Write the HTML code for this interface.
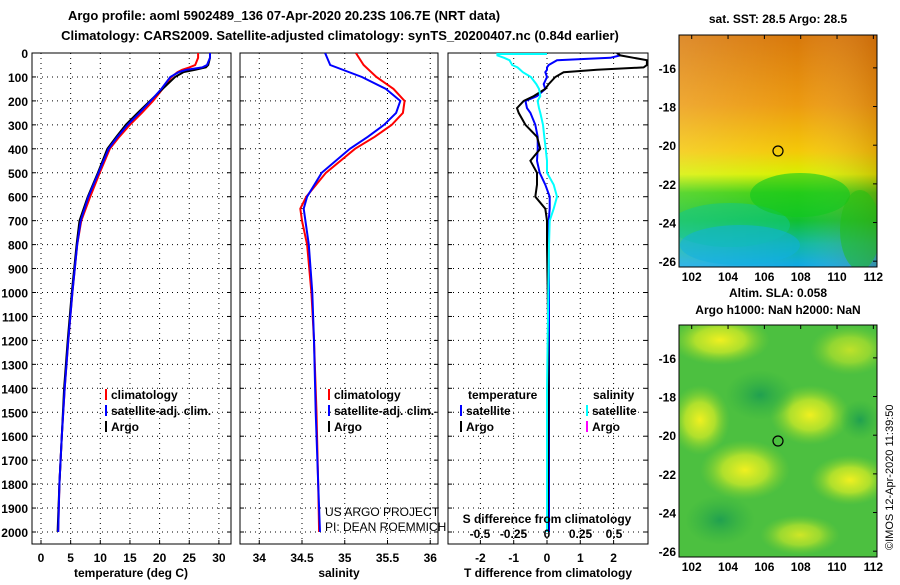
<!DOCTYPE html>
<html><head><meta charset="utf-8"><style>
body{margin:0;background:#fff;}
svg text{font-family:"Liberation Sans",sans-serif;font-weight:bold;font-size:12px;fill:#000;}
</style></head><body>
<svg id="fig" width="900" height="580" viewBox="0 0 900 580" xmlns="http://www.w3.org/2000/svg">
<defs>
<linearGradient id="sstV" x1="0" y1="0" x2="0" y2="1">
<stop offset="0" stop-color="#d8780a"/><stop offset="0.3" stop-color="#ec9a10"/>
<stop offset="0.5" stop-color="#f4c808"/><stop offset="0.6" stop-color="#d8f000"/>
<stop offset="0.68" stop-color="#40d010"/><stop offset="0.8" stop-color="#10c030"/>
<stop offset="0.9" stop-color="#10b8a0"/><stop offset="1" stop-color="#10a8e8"/>
</linearGradient>
<linearGradient id="sstH" x1="0" y1="0" x2="1" y2="0">
<stop offset="0" stop-color="#fff" stop-opacity="0.15"/><stop offset="0.6" stop-color="#fff" stop-opacity="0"/>
<stop offset="1" stop-color="#a04000" stop-opacity="0.25"/>
</linearGradient>
<radialGradient id="blob" cx="0.5" cy="0.5" r="0.5">
<stop offset="0" stop-color="#f0f020"/><stop offset="0.5" stop-color="#c8e828" stop-opacity="0.8"/><stop offset="1" stop-color="#80d030" stop-opacity="0"/>
</radialGradient>
<radialGradient id="dblob" cx="0.5" cy="0.5" r="0.5">
<stop offset="0" stop-color="#20a050"/><stop offset="1" stop-color="#30b040" stop-opacity="0"/>
</radialGradient>
<clipPath id="c1"><rect x="32" y="53" width="199" height="491"/></clipPath>
<clipPath id="c2"><rect x="240" y="53" width="198" height="491"/></clipPath>
<clipPath id="c3"><rect x="448" y="53" width="200" height="491"/></clipPath>
<clipPath id="m1"><rect x="679" y="35" width="198" height="232"/></clipPath>
<clipPath id="m2"><rect x="679" y="325" width="198" height="232"/></clipPath>
</defs>
<text x="284" y="20" text-anchor="middle" style="font-size:13px">Argo profile: aoml 5902489_136 07-Apr-2020 20.23S 106.7E (NRT data)</text>
<text x="340" y="40" text-anchor="middle" style="font-size:13px">Climatology: CARS2009. Satellite-adjusted climatology: synTS_20200407.nc (0.84d earlier)</text>
<g id="panels"></g>

<!-- SST map -->
<g>
<text x="778" y="23" text-anchor="middle">sat. SST: 28.5 Argo: 28.5</text>
<g clip-path="url(#m1)">
<rect x="679" y="35" width="198" height="232" fill="url(#sstV)"/>
<rect x="679" y="35" width="198" height="232" fill="url(#sstH)"/>
<ellipse cx="730" cy="225" rx="60" ry="22" fill="#10c890" opacity="0.5"/>
<ellipse cx="740" cy="245" rx="60" ry="20" fill="#10b0e0" opacity="0.5"/>
<ellipse cx="800" cy="195" rx="50" ry="22" fill="#10c820" opacity="0.6"/>
<ellipse cx="860" cy="230" rx="20" ry="40" fill="#20c010" opacity="0.5"/>
</g>
<circle cx="778" cy="151" r="5" fill="none" stroke="#000" stroke-width="1.2"/>
<rect x="679" y="35" width="198" height="232" fill="none" stroke="#000"/>
<g id="map1ticks"></g>
</g>
<!-- SLA map -->
<g>
<text x="778" y="297" text-anchor="middle">Altim. SLA: 0.058</text>
<text x="778" y="314" text-anchor="middle">Argo h1000: NaN h2000: NaN</text>
<g clip-path="url(#m2)">
<rect x="679" y="325" width="198" height="232" fill="#4cc040"/>
<ellipse cx="720" cy="340" rx="50" ry="25" fill="url(#blob)"/>
<ellipse cx="850" cy="350" rx="40" ry="25" fill="url(#blob)" opacity="0.7"/>
<ellipse cx="700" cy="420" rx="30" ry="35" fill="url(#blob)"/>
<ellipse cx="810" cy="415" rx="40" ry="30" fill="url(#blob)"/>
<ellipse cx="745" cy="470" rx="45" ry="30" fill="url(#blob)"/>
<ellipse cx="850" cy="480" rx="40" ry="25" fill="url(#blob)"/>
<ellipse cx="800" cy="535" rx="40" ry="20" fill="url(#blob)" opacity="0.8"/>
<ellipse cx="760" cy="395" rx="35" ry="25" fill="url(#dblob)"/>
<ellipse cx="720" cy="520" rx="35" ry="25" fill="url(#dblob)"/>
<ellipse cx="860" cy="420" rx="20" ry="20" fill="url(#dblob)"/>
</g>
<circle cx="778" cy="441" r="5" fill="none" stroke="#000" stroke-width="1.2"/>
<rect x="679" y="325" width="198" height="232" fill="none" stroke="#000"/>
<g id="map2ticks"></g>
</g>
<text transform="translate(893,550) rotate(-90)" style="font-weight:normal;font-size:11px">©IMOS 12-Apr-2020 11:39:50</text>
</svg>
<script>
// ---------- data ----------
const depthTicks=[0,100,200,300,400,500,600,700,800,900,1000,1100,1200,1300,1400,1500,1600,1700,1800,1900,2000];
const tTicks=[0,5,10,15,20,25,30];
const sTicks=[34,34.5,35,35.5,36];
const dtTicks=[-2,-1,0,1,2];
const dsTicks=[-0.5,-0.25,0,0.25,0.5];
const dsTickLabels=["-0.5","-0.25","0","0.25","0.5"];
const latTicks=[-16,-18,-20,-22,-24,-26];
const lonTicks=[102,104,106,108,110,112];

const tDepth=[0,20,50,60,70,80,100,150,200,250,300,350,400,500,600,700,800,1000,1200,1400,1600,1800,2000];
const tArgo=[28.5,28.5,28.2,27.8,26,24,22.6,20.5,18.4,16.3,14.3,12.7,11.2,9.6,7.9,6.5,6.0,5.2,4.5,3.9,3.5,3.1,2.8];
const tSat=[28.5,28.5,28.0,27.2,24.5,23.2,21.8,20.3,18.5,16.6,14.6,12.9,11.4,9.7,8.0,6.7,6.1,5.3,4.6,4.0,3.5,3.1,2.9];
const tClim=[26.5,26.5,26.0,25.0,23.8,23.0,22.0,20.5,18.9,17.0,15.0,13.2,11.6,9.9,8.3,6.8,6.1,5.3,4.6,4.0,3.5,3.1,2.9];

const sDepth=[0,50,100,150,200,250,300,350,400,500,600,650,700,800,1000,1200,1500,1800,2000];
const sSat=[34.77,34.83,35.2,35.48,35.65,35.6,35.46,35.27,35.06,34.73,34.56,34.52,34.54,34.58,34.62,34.64,34.66,34.69,34.71];
const sClim=[35.13,35.22,35.37,35.57,35.7,35.68,35.55,35.35,35.12,34.78,34.55,34.48,34.5,34.56,34.61,34.64,34.67,34.69,34.7];

const dDepth=[0,10,20,30,50,60,70,80,100,130,150,180,200,230,250,300,350,400,450,500,550,600,650,700,800,1000,1400,2000];
const dtArgo=[2.1,2.2,2.6,3.0,3.0,2.9,1.5,0.5,0.25,0.05,-0.05,-0.4,-0.7,-0.9,-0.85,-0.65,-0.3,-0.2,-0.5,-0.3,-0.3,-0.35,-0.05,0,0,0.02,0.05,0.02];
const dtSat=[2.1,2.2,1.9,0.3,0.05,0.0,0.0,-0.05,0.0,-0.1,-0.05,-0.3,-0.65,-0.6,-0.5,-0.35,-0.28,-0.28,-0.3,-0.22,-0.05,0.08,0.08,0.05,0.05,0.06,0.06,0.06];
const dsSat=[-0.37,-0.37,-0.32,-0.28,-0.26,-0.22,-0.2,-0.18,-0.12,-0.08,-0.06,-0.05,-0.07,-0.06,-0.05,-0.03,-0.02,-0.01,0.0,0.0,0.05,0.075,0.05,0.02,0.015,0.01,0.0,0.0];

// ---------- scales ----------
const Y0=53, Y1=544;
const yD=d=>53+d*0.2395;
const xT=v=>41+v*5.93;
const xS=v=>302+(v-34.5)*85.5;
const xDT=v=>547+v*33.3;
const xDS=v=>547+v*134;
const NS="http://www.w3.org/2000/svg";
const root=document.getElementById('panels');
function mk(tag,attrs,parent){const e=document.createElementNS(NS,tag);for(const k in attrs)e.setAttribute(k,attrs[k]);(parent||root).appendChild(e);return e;}
function txt(x,y,s,anchor,parent,size){const t=mk('text',{x:x,y:y,'text-anchor':anchor||'middle'},parent);if(size)t.style.fontSize=size;t.textContent=s;return t;}

function panel(x0,x1,name,xticks,xs,labels,labelY){
  const g=mk('g',{});
  
  
  depthTicks.forEach(d=>{ if(d>0) mk('line',{x1:x0,x2:x1,y1:yD(d),y2:yD(d),stroke:'#000','stroke-dasharray':'1,4'},g);
    mk('line',{x1:x0,x2:x0+4,y1:yD(d),y2:yD(d),stroke:'#000'},g);mk('line',{x1:x1-4,x2:x1,y1:yD(d),y2:yD(d),stroke:'#000'},g);});
  xticks.forEach((v,i)=>{const x=xs(v);mk('line',{x1:x,x2:x,y1:Y0,y2:Y1,stroke:'#000','stroke-dasharray':'1,4'},g);
    mk('line',{x1:x,x2:x,y1:Y1,y2:Y1-4,stroke:'#000'},g);
    if(labels) txt(x,labelY,labels[i],'middle',g);});
  mk('rect',{x:x0,y:Y0,width:x1-x0,height:Y1-Y0,fill:'none',stroke:'#000'},g);
  return g;
}
function line(g,xs,vals,depths,color,clip,name){
  const p=mk('polyline',{points:vals.map((v,i)=>xs(v).toFixed(1)+','+yD(depths[i]).toFixed(1)).join(' '),fill:'none',stroke:color,'stroke-width':2,'clip-path':'url(#'+clip+')'},g);
  
  
}
const dl=mk('g',{});


depthTicks.forEach(d=>txt(28,yD(d)+5,String(d),'end',dl));

const g1=panel(32,231,'temperature-panel',tTicks,xT,tTicks.map(String),562);
line(g1,xT,tClim,tDepth,'#f00','c1','temperature-climatology-line');
line(g1,xT,tArgo,tDepth,'#000','c1','temperature-argo-line');
line(g1,xT,tSat,tDepth,'#00f','c1','temperature-satellite-line');
txt(131,577,'temperature (deg C)','middle',g1);
function legend(g,x,y,items){items.forEach((it,i)=>{const yy=y+i*16;mk('rect',{x:x,y:yy-10,width:2,height:11,fill:it[1]},g);txt(x+6,yy,it[0],'start',g);});}
legend(g1,105,399,[['climatology','#f00'],['satellite-adj. clim.','#00f'],['Argo','#000']]);

const g2=panel(240,438,'salinity-panel',sTicks,xS,sTicks.map(String),562);
line(g2,xS,sClim,sDepth,'#f00','c2','salinity-climatology-line');
line(g2,xS,sSat,sDepth,'#00f','c2','salinity-satellite-line');
txt(339,577,'salinity','middle',g2);
legend(g2,328,399,[['climatology','#f00'],['satellite-adj. clim.','#00f'],['Argo','#000']]);
const pr=mk('g',{},g2);


txt(325,516,'US ARGO PROJECT','start',pr).style.fontWeight='normal';
txt(325,531,'PI: DEAN ROEMMICH','start',pr).style.fontWeight='normal';

const g3=panel(448,648,'difference-panel',dtTicks,xDT,dtTicks.map(String),562);
line(g3,xDT,dtSat,dDepth,'#00f','c3','t-diff-satellite-line');
line(g3,xDT,dtArgo,dDepth,'#000','c3','t-diff-argo-line');
line(g3,xDS,dsSat,dDepth,'#0ff','c3','s-diff-satellite-line');
mk('line',{x1:xDS(-0.37),x2:xDS(0),y1:54,y2:54,stroke:'#0ff','stroke-width':2},g3);
txt(548,577,'T difference from climatology','middle',g3);
txt(547,523,'S difference from climatology','middle',g3);
dsTicks.forEach((v,i)=>txt(xDS(v),538,dsTickLabels[i],'middle',g3));
txt(468,399,'temperature','start',g3);txt(593,399,'salinity','start',g3);
legend(g3,460,415,[['satellite','#00f'],['Argo','#000']]);
legend(g3,586,415,[['satellite','#0ff'],['Argo','#f0f']]);

function mapTicks(id,top){
  const g=document.getElementById(id);
  const yl=v=>top+(-(v)-14.3)*(232/12.0);
  const xl=v=>679+(v-101.3)*(198/10.9);
  latTicks.forEach(v=>{const y=yl(v);mk('line',{x1:873,x2:877,y1:y,y2:y,stroke:'#000'},g);txt(676,y+5,String(v),'end',g);});
  lonTicks.forEach(v=>{const x=xl(v);mk('line',{x1:x,x2:x,y1:top,y2:top+4,stroke:'#000'},g);txt(x,top+246,String(v),'middle',g);});
}
mapTicks('map1ticks',35);
mapTicks('map2ticks',325);
</script>
</body></html>
